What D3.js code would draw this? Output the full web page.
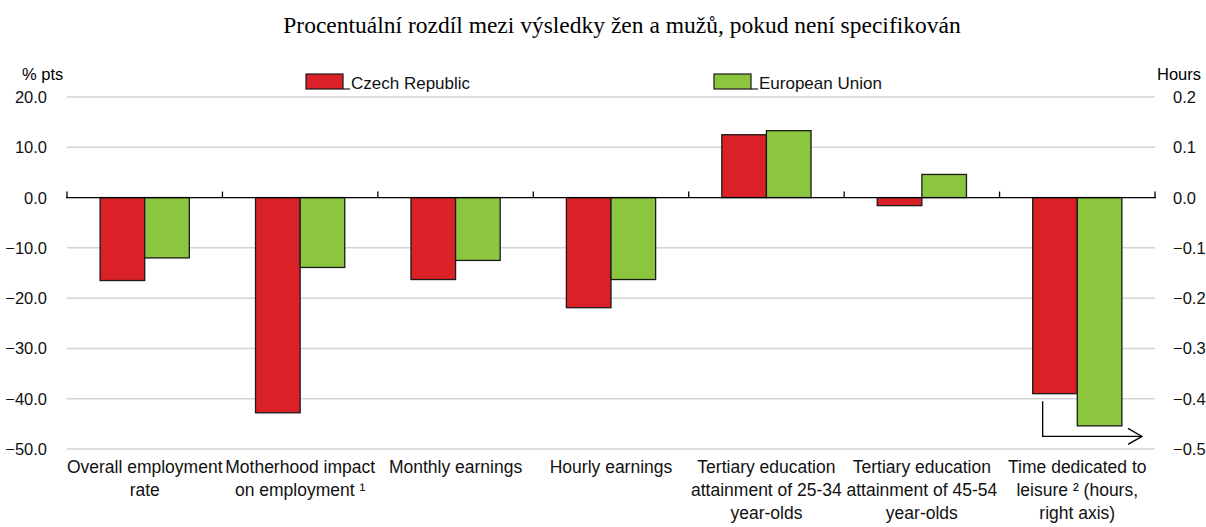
<!DOCTYPE html>
<html>
<head>
<meta charset="utf-8">
<script src="https://cdn.jsdelivr.net/npm/d3@7"></script>
<style>
  body { margin: 0; background: #fff; }
  text { font-family: "Liberation Sans", Arial, sans-serif; }
</style>
</head>
<body>
<script>
const width = 1206;
const height = 527;

// data
const categories = [
    ["Overall employment", "rate"],
    ["Motherhood impact", "on employment \u00b9"],
    ["Monthly earnings"],
    ["Hourly earnings"],
    ["Tertiary education", "attainment of 25-34", "year-olds"],
    ["Tertiary education", "attainment of 45-54", "year-olds"],
    ["Time dedicated to", "leisure \u00b2 (hours,", "right axis)"],
];
const seriesNames = ["Czech Republic", "European Union"];
const czech = [-16.5, -42.8, -16.3, -21.9, 12.5, -1.6, -0.39];
const eu = [-12.0, -13.9, -12.5, -16.3, 13.3, 4.6, -0.454];
const rightAxisIndex = 6; // leisure plotted on right axis
const leftTicks = [20, 10, 0, -10, -20, -30, -40, -50];
const rightTicks = [0.2, 0.1, 0, -0.1, -0.2, -0.3, -0.4, -0.5];

const colours = { "Czech Republic": "#da2128", "European Union": "#8cc63f" };

const margin = { top: 97, right: 51, bottom: 78, left: 67 };

const svg = d3
    .select("body")
    .append("svg")
    .attr("width", width)
    .attr("height", height);

const y = d3.scaleLinear().domain([-50, 20]).range([height - margin.bottom, margin.top]);
const yRight = d3.scaleLinear().domain([-0.5, 0.2]).range([height - margin.bottom, margin.top]);

const x0 = d3
    .scaleBand()
    .domain(d3.range(categories.length))
    .range([margin.left, width - margin.right])
    .padding(0);
const bw = x0.bandwidth();
const x1 = d3
    .scaleBand()
    .domain(seriesNames)
    .range([bw * 0.213, bw * 0.787]);

// title
svg.append("text")
    .attr("x", 622)
    .attr("y", 33)
    .attr("text-anchor", "middle")
    .style("font-family", "'Liberation Serif', 'Times New Roman', serif")
    .style("font-size", "23.5px")
    .text("Procentuální rozdíl mezi výsledky žen a mužů, pokud není specifikován");

// gridlines
svg.append("g")
    .selectAll("line")
    .data(leftTicks.filter((d) => d !== 0))
    .enter()
    .append("line")
    .attr("x1", margin.left)
    .attr("x2", width - margin.right)
    .attr("y1", (d) => y(d))
    .attr("y2", (d) => y(d))
    .attr("stroke", "#d4d4d4")
    .attr("stroke-width", 1.5);

// left tick labels
svg.append("g")
    .selectAll("text")
    .data(leftTicks)
    .enter()
    .append("text")
    .attr("x", 47)
    .attr("y", (d) => y(d) + 6)
    .attr("text-anchor", "end")
    .style("font-size", "16.5px")
    .attr("fill", "#111")
    .text((d) => d3.format(".1f")(d));

// right tick labels
svg.append("g")
    .selectAll("text")
    .data(rightTicks)
    .enter()
    .append("text")
    .attr("x", 1173)
    .attr("y", (d) => yRight(d) + 6)
    .attr("text-anchor", "start")
    .style("font-size", "16.5px")
    .attr("fill", "#111")
    .text((d) => d3.format(".1f")(d));

// axis titles
svg.append("text").attr("x", 22).attr("y", 80).style("font-size", "16.5px").text("% pts");
svg.append("text").attr("x", 1157).attr("y", 80).style("font-size", "16.5px").text("Hours");

// bars
const valueFor = (i, s) => (s === "Czech Republic" ? czech[i] : eu[i]);
const scaleFor = (i) => (i === rightAxisIndex ? yRight : y);

const groups = svg
    .append("g")
    .selectAll("g")
    .data(categories)
    .enter()
    .append("g")
    .attr("transform", (d, i) => `translate(${x0(i)},0)`);

groups
    .selectAll("rect")
    .data((d, i) => seriesNames.map((s) => ({ i, s, v: valueFor(i, s) })))
    .enter()
    .append("rect")
    .attr("x", (d) => x1(d.s))
    .attr("width", x1.bandwidth())
    .attr("y", (d) => Math.min(scaleFor(d.i)(d.v), scaleFor(d.i)(0)))
    .attr("height", (d) => Math.abs(scaleFor(d.i)(d.v) - scaleFor(d.i)(0)))
    .attr("fill", (d) => colours[d.s])
    .attr("stroke", "#1a1a1a")
    .attr("stroke-width", 1.3);

// zero line with category ticks
const y0 = y(0);
svg.append("line")
    .attr("x1", margin.left - 1)
    .attr("x2", width - margin.right + 1)
    .attr("y1", y0)
    .attr("y2", y0)
    .attr("stroke", "#000")
    .attr("stroke-width", 1.3);

svg.append("g")
    .selectAll("line")
    .data(d3.range(categories.length + 1))
    .enter()
    .append("line")
    .attr("x1", (d) => margin.left + d * bw)
    .attr("x2", (d) => margin.left + d * bw)
    .attr("y1", y0)
    .attr("y2", y0 - 6)
    .attr("stroke", "#000")
    .attr("stroke-width", 1.3);

// category labels
const labels = svg
    .append("g")
    .selectAll("text")
    .data(categories)
    .enter()
    .append("text")
    .attr("text-anchor", "middle")
    .style("font-size", "17.5px")
    .attr("fill", "#111");

labels
    .selectAll("tspan")
    .data((d, i) => d.map((line) => ({ line, i })))
    .enter()
    .append("tspan")
    .attr("x", (d) => x0(d.i) + bw / 2)
    .attr("y", (d, j) => 473 + j * 23)
    .text((d) => d.line);

// arrow pointing to right axis
const ax = x0(rightAxisIndex) + x1("Czech Republic") + 10;
const ay = yRight(-0.475);
const aEnd = width - margin.right - 13;
svg.append("path")
    .attr("d", `M${ax},${yRight(-0.405)} V${ay} H${aEnd}`)
    .attr("fill", "none")
    .attr("stroke", "#000")
    .attr("stroke-width", 1.3);
svg.append("path")
    .attr("d", `M${aEnd - 14},${ay - 8} L${aEnd},${ay} L${aEnd - 14},${ay + 8}`)
    .attr("fill", "none")
    .attr("stroke", "#000")
    .attr("stroke-width", 1.3);

// legend
const legendItems = [
    { s: "Czech Republic", x: 306 },
    { s: "European Union", x: 714 },
];
const legend = svg
    .append("g")
    .selectAll("g")
    .data(legendItems)
    .enter()
    .append("g")
    .attr("transform", (d) => `translate(${d.x},74)`);

legend
    .append("rect")
    .attr("width", 37)
    .attr("height", 15)
    .attr("fill", (d) => colours[d.s])
    .attr("stroke", "#1a1a1a")
    .attr("stroke-width", 1.2);
legend
    .append("line")
    .attr("x1", 37)
    .attr("x2", 44)
    .attr("y1", 15)
    .attr("y2", 15)
    .attr("stroke", "#1a1a1a")
    .attr("stroke-width", 1.2);
legend
    .append("text")
    .attr("x", 45)
    .attr("y", 15)
    .style("font-size", "17px")
    .attr("fill", "#111")
    .text((d) => d.s);
</script>
</body>
</html>
